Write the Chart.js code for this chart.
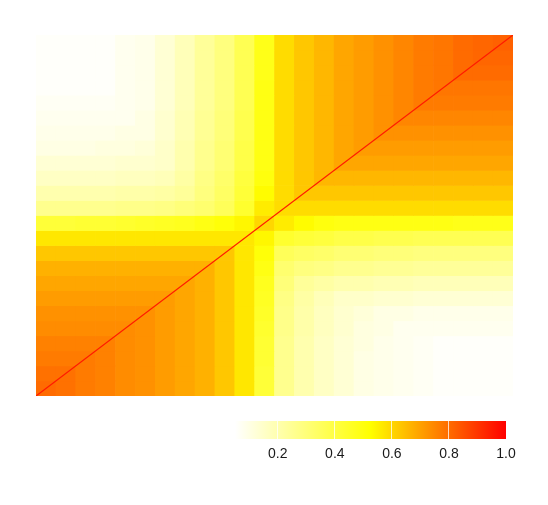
<!DOCTYPE html>
<html>
<head>
<meta charset="utf-8">
<script src="https://cdn.jsdelivr.net/npm/chart.js@4.4.1/dist/chart.umd.min.js"></script>
<style>
  html, body { margin: 0; padding: 0; background: #fff; }
  #wrap { position: relative; width: 548px; height: 505px; }
  #wrap canvas { position: absolute; left: 0; top: 0; }
</style>
</head>
<body>
<div id="wrap">
  <canvas id="heat" width="548" height="505"></canvas>
  <canvas id="key" width="548" height="505"></canvas>
</div>
<script>
// correlation grid, 24 x 24, rows listed top to bottom (last row = index 0)
const heatRows = [
  [0.06,0.06,0.06,0.06,0.08,0.09,0.13,0.18,0.24,0.29,0.37,0.48,0.59,0.63,0.66,0.69,0.71,0.73,0.75,0.77,0.78,0.80,0.81,0.82],
  [0.06,0.06,0.06,0.06,0.08,0.09,0.13,0.18,0.24,0.29,0.37,0.48,0.59,0.63,0.66,0.69,0.71,0.73,0.75,0.77,0.78,0.80,0.81,0.81],
  [0.06,0.06,0.06,0.06,0.08,0.09,0.13,0.18,0.24,0.29,0.37,0.48,0.59,0.63,0.66,0.69,0.71,0.73,0.75,0.77,0.78,0.80,0.80,0.80],
  [0.06,0.06,0.06,0.06,0.08,0.09,0.13,0.18,0.24,0.29,0.37,0.49,0.59,0.63,0.66,0.69,0.71,0.73,0.75,0.77,0.78,0.78,0.78,0.78],
  [0.07,0.07,0.07,0.07,0.08,0.09,0.13,0.18,0.24,0.29,0.37,0.49,0.59,0.63,0.66,0.69,0.71,0.73,0.75,0.77,0.77,0.77,0.77,0.77],
  [0.08,0.08,0.08,0.08,0.08,0.10,0.14,0.19,0.25,0.30,0.38,0.49,0.59,0.63,0.66,0.69,0.71,0.73,0.75,0.75,0.75,0.75,0.75,0.75],
  [0.09,0.09,0.09,0.09,0.10,0.10,0.14,0.19,0.25,0.30,0.38,0.49,0.59,0.63,0.66,0.69,0.71,0.73,0.73,0.73,0.73,0.73,0.73,0.73],
  [0.10,0.10,0.10,0.11,0.11,0.12,0.15,0.20,0.26,0.31,0.39,0.49,0.59,0.63,0.66,0.69,0.71,0.71,0.71,0.71,0.71,0.71,0.71,0.71],
  [0.13,0.13,0.13,0.13,0.14,0.14,0.15,0.20,0.26,0.31,0.39,0.49,0.59,0.63,0.66,0.69,0.69,0.69,0.69,0.69,0.69,0.69,0.69,0.69],
  [0.16,0.16,0.16,0.16,0.17,0.17,0.18,0.22,0.28,0.33,0.41,0.50,0.59,0.63,0.66,0.66,0.66,0.66,0.66,0.66,0.66,0.66,0.66,0.66],
  [0.20,0.20,0.20,0.20,0.21,0.21,0.22,0.24,0.29,0.34,0.42,0.53,0.59,0.63,0.63,0.63,0.63,0.63,0.63,0.63,0.63,0.63,0.63,0.63],
  [0.26,0.26,0.26,0.26,0.27,0.27,0.28,0.30,0.32,0.36,0.44,0.56,0.59,0.59,0.59,0.59,0.59,0.59,0.59,0.59,0.59,0.59,0.59,0.59],
  [0.42,0.42,0.43,0.43,0.44,0.45,0.46,0.47,0.49,0.51,0.54,0.60,0.56,0.53,0.50,0.49,0.49,0.49,0.49,0.49,0.49,0.48,0.48,0.48],
  [0.57,0.57,0.57,0.57,0.57,0.57,0.57,0.57,0.57,0.57,0.57,0.54,0.44,0.42,0.41,0.39,0.39,0.38,0.38,0.37,0.37,0.37,0.37,0.37],
  [0.63,0.63,0.63,0.63,0.63,0.63,0.63,0.63,0.63,0.63,0.57,0.51,0.36,0.34,0.33,0.31,0.31,0.30,0.30,0.29,0.29,0.29,0.29,0.29],
  [0.67,0.67,0.67,0.67,0.67,0.67,0.67,0.67,0.67,0.63,0.57,0.49,0.32,0.29,0.28,0.26,0.26,0.25,0.25,0.24,0.24,0.24,0.24,0.24],
  [0.69,0.69,0.69,0.69,0.69,0.69,0.69,0.69,0.67,0.63,0.57,0.47,0.30,0.24,0.22,0.20,0.20,0.19,0.19,0.18,0.18,0.18,0.18,0.18],
  [0.71,0.71,0.71,0.71,0.71,0.71,0.71,0.69,0.67,0.63,0.57,0.46,0.28,0.22,0.18,0.15,0.15,0.14,0.14,0.13,0.13,0.13,0.13,0.13],
  [0.73,0.73,0.73,0.73,0.73,0.73,0.71,0.69,0.67,0.63,0.57,0.45,0.27,0.21,0.17,0.14,0.12,0.10,0.10,0.09,0.09,0.09,0.09,0.09],
  [0.74,0.74,0.74,0.74,0.74,0.73,0.71,0.69,0.67,0.63,0.57,0.44,0.27,0.21,0.17,0.14,0.11,0.10,0.08,0.08,0.08,0.08,0.08,0.08],
  [0.76,0.76,0.76,0.76,0.74,0.73,0.71,0.69,0.67,0.63,0.57,0.43,0.26,0.20,0.16,0.13,0.11,0.09,0.08,0.07,0.06,0.06,0.06,0.06],
  [0.77,0.77,0.77,0.76,0.74,0.73,0.71,0.69,0.67,0.63,0.57,0.43,0.26,0.20,0.16,0.13,0.10,0.09,0.08,0.07,0.06,0.06,0.06,0.06],
  [0.79,0.79,0.77,0.76,0.74,0.73,0.71,0.69,0.67,0.63,0.57,0.42,0.26,0.20,0.16,0.13,0.10,0.09,0.08,0.07,0.06,0.06,0.06,0.06],
  [0.80,0.79,0.77,0.76,0.74,0.73,0.71,0.69,0.67,0.63,0.57,0.42,0.26,0.20,0.16,0.13,0.10,0.09,0.08,0.07,0.06,0.06,0.06,0.06]
];
// self-correlation (1.0) runs corner to corner
const diagonal = [{x: 0, y: 0}, {x: 24, y: 24}];

// fill scale: white -> yellow -> red
const scaleStops = [0.05, 0.525, 1.0];
const scaleColors = [[255,255,255],[255,255,0],[255,0,0]];
const legendRange = [0.05, 1.0];
const legendTicks = [0.2, 0.4, 0.6, 0.8, 1.0];

const rgb = c => `rgb(${c[0]},${c[1]},${c[2]})`;
function colorFor(v){
  if(v <= scaleStops[0]) return rgb(scaleColors[0]);
  for(let i=1;i<scaleStops.length;i++){
    if(v <= scaleStops[i]){
      const t = (v-scaleStops[i-1])/(scaleStops[i]-scaleStops[i-1]);
      const a = scaleColors[i-1], b = scaleColors[i];
      return rgb(a.map((x,k)=>Math.round(x+(b[k]-x)*t)));
    }
  }
  return rgb(scaleColors[scaleColors.length-1]);
}

const n = heatRows.length;
const cellSets = heatRows.map((row, i) => {
  const r = n-1-i;
  return {
    type: 'bar',
    data: row.map((v, c) => ({x: c+0.5, y: [r, r+1]})),
    backgroundColor: row.map(colorFor),
    borderWidth: 0,
    grouped: false,
    barPercentage: 1,
    categoryPercentage: 1,
    order: 1
  };
});

new Chart(document.getElementById('heat'), {
  data: {
    datasets: [
      { type: 'line', data: diagonal, borderColor: '#ff1a00', borderWidth: 1.2, pointRadius: 0, order: 0 },
      ...cellSets
    ]
  },
  options: {
    responsive: false, animation: false, events: [],
    layout: { padding: { left: 36, right: 35, top: 35, bottom: 109 } },
    plugins: { legend: { display: false }, tooltip: { enabled: false } },
    scales: {
      x: { type: 'linear', min: 0, max: n, offset: false, display: false },
      y: { type: 'linear', min: 0, max: n, display: false }
    }
  }
});

new Chart(document.getElementById('key'), {
  type: 'bar',
  data: {
    labels: ['value'],
    datasets: [{
      data: [legendRange],
      borderWidth: 0,
      barPercentage: 1,
      categoryPercentage: 1,
      backgroundColor: (ctx) => {
        const ch = ctx.chart, xs = ch.scales.x;
        if(!ch.chartArea || !xs) return '#fff';
        const x0 = xs.getPixelForValue(legendRange[0]), x1 = xs.getPixelForValue(legendRange[1]);
        const g = ch.ctx.createLinearGradient(x0, 0, x1, 0);
        scaleStops.forEach((s, i) => g.addColorStop((s-legendRange[0])/(legendRange[1]-legendRange[0]), rgb(scaleColors[i])));
        return g;
      }
    }]
  },
  options: {
    indexAxis: 'y',
    responsive: false, animation: false, events: [],
    layout: { padding: { left: 235, right: 42, top: 421, bottom: 36 } },
    plugins: { legend: { display: false }, tooltip: { enabled: false } },
    scales: {
      x: {
        type: 'linear', min: legendRange[0], max: legendRange[1],
        afterBuildTicks: s => { s.ticks = legendTicks.map(v => ({value: v})); },
        afterFit: s => { s.height = 30; },
        border: { display: false },
        grid: { z: 1, drawTicks: false, lineWidth: 1,
                color: c => (c.tick && c.tick.value < 1) ? 'rgba(255,255,255,0.75)' : 'rgba(0,0,0,0)' },
        ticks: { padding: 7, color: '#1a1a1a', maxRotation: 0,
                 font: { family: '"Liberation Sans", Arial, sans-serif', size: 14 },
                 callback: v => Number(v).toFixed(1) }
      },
      y: { display: false }
    }
  }
});
</script>
</body>
</html>
